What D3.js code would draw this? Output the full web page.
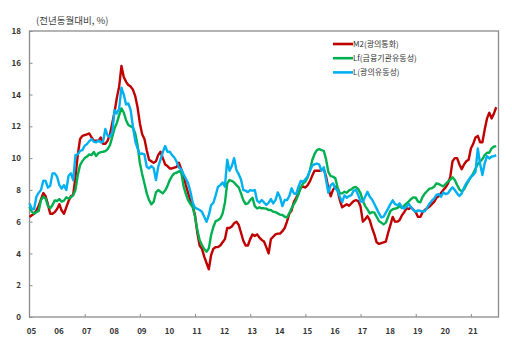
<!DOCTYPE html>
<html>
<head>
<meta charset="utf-8">
<script src="https://cdn.jsdelivr.net/npm/d3@7"></script>
<style>
  body { margin: 0; background: #fff; }
  svg text { font-family: "Noto Sans CJK KR", "Noto Sans", sans-serif; }
</style>
</head>
<body>
<svg id="chart"></svg>
<script>
// Year tick labels (one every 12 months, starting Jan 2005)
const years = ["05","06","07","08","09","10","11","12","13","14","15","16","17","18","19","20","21"];

// Monthly YoY growth, Jan 2005 - Dec 2021 (%)
const m2 = [
  6.3, 6.4, 6.5, 6.7, 7.0, 7.4, 7.8, 7.6, 7.1, 6.5, 6.5, 6.6,
  6.8, 7.1, 6.7, 6.5, 6.9, 7.3, 7.6, 7.7, 8.8, 10.2, 11.2, 11.4,
  11.45, 11.5, 11.55, 11.3, 11.1, 11.1, 11.1, 11.3, 10.9, 10.9, 11.1, 11.5,
  12.2, 12.9, 13.8, 14.5, 15.8, 15.1, 14.8, 14.6, 14.5, 14.3, 13.9, 13.2,
  12.2, 11.5, 11.2, 10.5, 9.9, 9.8, 9.7, 9.8, 10.2, 10.4, 10.0, 9.6,
  9.5, 9.35, 9.35, 9.4, 9.45, 9.7, 9.3, 8.9, 8.3, 7.8, 7.3, 7.0,
  6.4, 5.3, 4.5, 4.3, 3.8, 3.4, 3.0, 3.9, 4.3, 4.4, 4.4, 4.5,
  4.7, 4.9, 5.6, 5.6, 5.7, 5.9, 6.0, 5.8, 5.3, 4.8, 4.5, 4.5,
  4.9, 5.2, 5.1, 5.2, 5.0, 4.85, 4.75, 4.4, 4.0, 4.9, 5.05, 5.2,
  5.25, 5.25, 5.4, 5.6, 6.0, 6.5, 6.7, 7.25, 7.5, 7.8, 8.15, 8.2,
  8.15, 8.3, 8.55, 8.9, 9.2, 9.2, 9.2, 9.25, 9.3, 8.85, 8.1, 7.6,
  8.0, 8.2, 7.95, 7.35, 6.9, 7.0, 7.1, 7.0, 7.15, 7.3, 7.35, 7.3,
  6.95, 6.0, 6.15, 6.35, 6.1, 5.6, 5.2, 4.7, 4.6, 4.65, 4.7, 4.75,
  5.3, 5.8, 6.3, 6.0, 6.0, 6.1, 6.4, 6.6, 6.85, 6.8, 6.9, 6.75,
  6.6, 6.3, 6.3, 6.6, 6.75, 6.85, 6.95, 7.1, 7.25, 7.5, 7.6, 7.8,
  8.0, 8.15, 8.4, 8.8, 9.8, 10.0, 10.0, 9.6, 9.3, 9.6, 9.8, 9.9,
  10.6, 10.9, 11.3, 11.4, 11.0, 11.0, 11.8, 12.5, 12.85, 12.5, 12.8, 13.2
];

const lf = [
  6.94, 6.63, 6.5, 6.6, 6.67, 7.36, 7.57, 7.46, 7.0, 6.84, 7.05, 7.34,
  7.3, 7.42, 7.26, 7.32, 7.53, 7.46, 7.53, 7.67, 7.99, 8.93, 9.56, 9.81,
  10.0, 10.1, 10.23, 10.19, 10.38, 10.13, 10.32, 10.38, 10.4, 10.44, 10.57, 10.82,
  11.34, 11.87, 12.22, 12.71, 13.13, 12.87, 12.39, 12.08, 12.0, 11.91, 11.55, 10.82,
  9.7, 9.0, 8.4, 7.78, 7.36, 7.09, 7.25, 7.84, 7.99, 7.88, 7.78, 7.97,
  8.24, 8.62, 8.87, 9.04, 9.08, 9.18, 9.1, 8.24, 7.74, 7.36, 7.11, 6.9,
  6.31, 5.47, 4.84, 4.53, 4.28, 4.11, 4.32, 5.16, 5.68, 6.04, 6.1, 6.2,
  6.52, 7.19, 8.41, 8.62, 8.57, 8.47, 8.3, 8.16, 7.78, 7.36, 7.11, 7.15,
  7.36, 7.5, 6.98, 6.83, 6.9, 6.84, 6.84, 6.82, 6.73, 6.73, 6.63, 6.6,
  6.52, 6.44, 6.42, 6.31, 6.27, 6.52, 6.84, 7.11, 7.36, 7.72, 8.16, 8.41,
  8.53, 8.79, 9.25, 9.88, 10.26, 10.5, 10.57, 10.5, 10.46, 9.92, 9.12, 8.87,
  8.83, 8.74, 8.16, 7.78, 7.78, 7.88, 7.82, 7.97, 8.03, 8.16, 8.18, 8.05,
  7.78, 7.32, 6.98, 6.77, 6.52, 6.6, 6.57, 6.31, 6.04, 5.94, 5.83, 5.94,
  6.31, 6.67, 6.78, 6.82, 6.86, 6.99, 6.86, 7.01, 7.15, 7.28, 7.43, 7.53,
  7.51, 7.26, 7.22, 7.57, 7.78, 7.93, 8.08, 8.1, 8.2, 8.41, 8.37, 8.29,
  8.22, 8.37, 8.52, 8.64, 8.79, 8.62, 8.31, 8.03, 7.91, 8.03, 8.31, 8.56,
  8.81, 9.04, 9.33, 9.63, 9.77, 9.94, 10.19, 10.34, 10.34, 10.61, 10.72, 10.76
];

const l = [
  7.15, 6.8, 6.8, 7.57, 7.82, 7.99, 8.58, 8.56, 8.14, 8.26, 9.04, 9.04,
  8.83, 8.3, 8.09, 8.3, 7.99, 8.89, 9.04, 8.62, 10.19, 10.23, 10.46, 10.5,
  10.78, 10.88, 11.07, 11.2, 11.03, 10.99, 11.11, 10.99, 11.03, 11.83, 11.41, 11.34,
  11.62, 13.02, 12.81, 13.13, 14.43, 14.0, 13.38, 13.44, 13.02, 11.97, 11.07, 10.61,
  10.25, 10.29, 10.23, 9.46, 9.35, 9.5, 9.37, 8.62, 9.46, 9.92, 10.38, 10.76,
  10.4, 10.4, 10.19, 10.04, 9.77, 9.41, 9.29, 8.99, 8.7, 8.41, 7.88, 7.19,
  6.88, 6.81, 6.73, 6.62, 6.31, 5.99, 6.41, 7.04, 7.19, 7.67, 8.2, 8.3,
  8.47, 8.2, 9.9, 9.2, 9.5, 10.0, 9.25, 8.99, 8.66, 7.99, 7.95, 7.86,
  7.99, 7.95, 7.99, 7.32, 7.2, 7.36, 7.21, 7.05, 7.19, 7.42, 7.15, 7.36,
  7.84, 7.53, 6.98, 7.36, 7.36, 7.61, 8.1, 7.78, 7.74, 8.2, 8.56, 8.51,
  8.66, 8.87, 9.21, 9.54, 9.6, 9.65, 9.6, 9.21, 9.42, 8.62, 7.82, 8.3,
  8.41, 8.1, 7.95, 7.57, 7.23, 7.65, 7.51, 7.61, 7.67, 7.95, 7.99, 7.67,
  7.26, 7.26, 7.57, 7.88, 7.57, 7.4, 7.11, 6.82, 6.52, 6.27, 6.31, 6.57,
  6.82, 7.11, 7.34, 7.11, 7.03, 7.15, 6.9, 6.82, 6.94, 7.11, 6.9, 6.73,
  6.63, 6.71, 6.67, 6.63, 6.67, 6.9, 7.13, 7.32, 7.45, 7.68, 7.74, 7.57,
  7.84, 7.74, 7.78, 7.99, 8.16, 7.99, 7.78, 7.61, 7.78, 8.14, 8.41, 8.62,
  8.83, 8.94, 9.14, 10.61, 9.63, 8.94, 9.67, 10.13, 9.98, 10.09, 10.13, 10.19
];

const seriesNames = ["M2(광의통화)", "Lf(금융기관유동성)", "L(광의유동성)"];
const seriesColors = ["#c00000", "#00b050", "#00b0f0"];
const yTicks = [0, 2, 4, 6, 8, 10, 12, 14, 16, 18];

// Sizes
const width = 512;
const height = 350;
const marginTop = 31;
const marginRight = 13.5;
const marginBottom = 33;
const marginLeft = 29.5;

const x = d3.scaleLinear()
    .domain([0, 204])
    .range([marginLeft, width - marginRight]);

const y = d3.scaleLinear()
    .domain([0, 18])
    .range([height - marginBottom, marginTop]);

const svg = d3.select("#chart")
    .attr("width", width)
    .attr("height", height)
    .attr("viewBox", [0, 0, width, height]);

// Unit label
svg.append("text")
    .attr("x", 36)
    .attr("y", 24)
    .attr("fill", "#404040")
    .attr("font-size", 9.5)
    .text("(전년동월대비, %)");

// Y axis
svg.append("g")
    .attr("transform", `translate(${marginLeft},0)`)
    .call(d3.axisLeft(y).tickValues(yTicks).tickSizeInner(-3).tickSizeOuter(0).tickPadding(8.5))
    .call(g => g.select(".domain").remove())
    .call(g => g.selectAll(".tick line").attr("stroke", "#8c8c8c"))
    .call(g => g.selectAll("text")
        .attr("fill", "#333")
        .attr("font-size", 8)
        .attr("font-weight", "bold"));

// X axis: labels every year, tick marks every other year
const yearMonths = years.map((d, i) => i * 12);
svg.append("g")
    .attr("transform", `translate(0,${height - marginBottom})`)
    .call(d3.axisBottom(x).tickValues(yearMonths).tickFormat((d, i) => years[i])
        .tickSizeInner(-3).tickSizeOuter(0).tickPadding(11))
    .call(g => g.select(".domain").remove())
    .call(g => g.selectAll(".tick line")
        .attr("stroke", "#8c8c8c")
        .attr("display", (d, i) => i % 2 === 0 && i > 0 ? null : "none"))
    .call(g => g.selectAll("text")
        .attr("x", 1.5)
        .attr("fill", "#333")
        .attr("font-size", 8)
        .attr("font-weight", "bold"));

// Plot frame
svg.append("rect")
    .attr("x", marginLeft)
    .attr("y", marginTop)
    .attr("width", width - marginRight - marginLeft)
    .attr("height", height - marginBottom - marginTop)
    .attr("fill", "none")
    .attr("stroke", "#8c8c8c")
    .attr("stroke-width", 1.3);

// Lines
const line = d3.line()
    .x((d, i) => x(i))
    .y(d => y(d));

svg.append("g")
    .attr("fill", "none")
    .attr("stroke-width", 2.4)
    .attr("stroke-linejoin", "round")
  .selectAll("path")
  .data([m2, lf, l])
  .join("path")
    .attr("stroke", (d, i) => seriesColors[i])
    .attr("d", d => line(d));

// Legend
const legend = svg.append("g")
    .attr("transform", "translate(333,44)");

const legendRows = legend.selectAll("g")
  .data(seriesNames)
  .join("g")
    .attr("transform", (d, i) => `translate(0,${i * 14.2})`);

legendRows.append("line")
    .attr("x1", 0)
    .attr("x2", 20)
    .attr("stroke", (d, i) => seriesColors[i])
    .attr("stroke-width", 2.6);

legendRows.append("text")
    .attr("x", 20)
    .attr("y", 3)
    .attr("fill", "#333")
    .attr("font-size", 8)
    .text(d => d);
</script>
</body>
</html>
